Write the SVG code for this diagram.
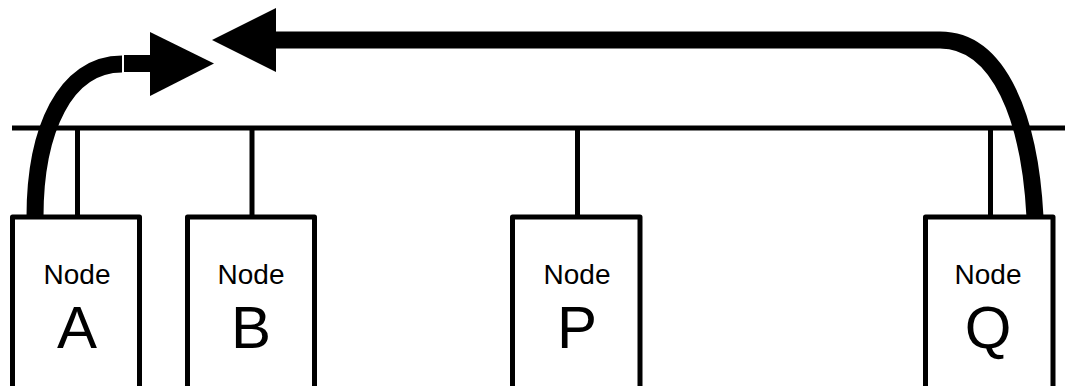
<svg xmlns="http://www.w3.org/2000/svg" width="1065" height="386" viewBox="0 0 1065 386">
  <style>
    .box { fill: #ffffff; stroke: #000000; stroke-width: 5; stroke-linejoin: round; }
    .lbl { font-family: "Liberation Sans", Arial, sans-serif; fill: #000000; text-anchor: middle; }
    .small { font-size: 28px; }
    .big { font-size: 60px; }
    .bus { stroke: #000000; stroke-width: 5; fill: none; }
    .thick { stroke: #000000; stroke-width: 17; fill: none; stroke-linecap: butt; }
    .head { fill: #000000; stroke: none; }
  </style>
  <rect x="0" y="0" width="1065" height="386" fill="#ffffff"/>
  <g id="connectors">
    <line class="bus" x1="12" y1="128" x2="1065" y2="128"/>
    <line class="bus" x1="77.5" y1="128" x2="77.5" y2="217"/>
    <line class="bus" x1="252" y1="128" x2="252" y2="217"/>
    <line class="bus" x1="577.5" y1="128" x2="577.5" y2="217"/>
    <line class="bus" x1="990.5" y1="128" x2="990.5" y2="217"/>
    <path class="thick" d="M 35 217 C 35 130 65 64 122 64"/>
    <line class="thick" x1="124" y1="63.5" x2="151" y2="63.5"/>
    <polygon class="head" points="150,32 214,63.5 150,96"/>
    <path class="thick" d="M 1035 217 C 1030 120 1000 40 940 40 L 275 40"/>
    <polygon class="head" points="276,8 212,40 276,72"/>
  </g>
  <g id="nodeA">
    <rect class="box" x="12.5" y="217" width="127" height="200"/>
    <text class="lbl small" x="77" y="284">Node</text>
    <text class="lbl big" x="77" y="348">A</text>
  </g>
  <g id="nodeB">
    <rect class="box" x="187.5" y="217" width="127" height="200"/>
    <text class="lbl small" x="251" y="284">Node</text>
    <text class="lbl big" x="251" y="348">B</text>
  </g>
  <g id="nodeP">
    <rect class="box" x="512.5" y="217" width="127.5" height="200"/>
    <text class="lbl small" x="577" y="284">Node</text>
    <text class="lbl big" x="577" y="348">P</text>
  </g>
  <g id="nodeQ">
    <rect class="box" x="925.5" y="217" width="127.5" height="200"/>
    <text class="lbl small" x="988" y="284">Node</text>
    <text class="lbl big" x="988" y="348">Q</text>
  </g>
</svg>
